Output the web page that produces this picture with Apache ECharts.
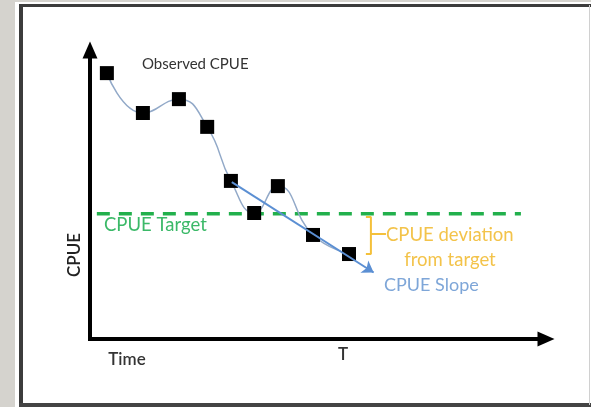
<!DOCTYPE html>
<html>
<head>
<meta charset="utf-8">
<script src="https://cdn.jsdelivr.net/npm/echarts@6/dist/echarts.min.js"></script>
<style>
html,body{margin:0;padding:0;background:#d5d3ce;}
#chart{width:591px;height:407px;}
</style>
</head>
<body>
<div id="chart"></div>
<script>
// Observed CPUE (time, CPUE) in arbitrary units
const obsTime = [3.7, 11.6, 19.5, 25.7, 30.9, 36.0, 41.2, 48.9, 56.8];
const obsCPUE = [92.0, 78.2, 83.0, 73.4, 54.7, 43.6, 52.9, 36.0, 29.4];
// CPUE target level and its span in time
const targetLevel = 43.3;
const targetSpan = [1.5, 94.5];
// CPUE slope arrow: start and end (time, CPUE)
const slopeStart = [31.1, 54.3];
const slopeEnd = [62.2, 23.0];
// deviation bracket (time, CPUE)
const bracketX = [60.5, 61.6, 64.9];
const bracketY = [42.2, 36.3, 29.4];
// axis range
const axisMax = [100, 100];
// text labels
const labels = {
  observed: 'Observed CPUE',
  target: 'CPUE Target',
  deviation1: 'CPUE deviation',
  deviation2: 'from target',
  slope: 'CPUE Slope',
  yName: 'CPUE',
  xStart: 'Time',
  xEnd: 'T'
};

const FONT = 'Lato, "Open Sans", sans-serif';
const obsData = obsTime.map((t, i) => [t, obsCPUE[i]]);
const bracketData = [
  [bracketX[0], bracketY[0]], [bracketX[1], bracketY[0]], [bracketX[1], bracketY[1]],
  [bracketX[2], bracketY[1]], [bracketX[1], bracketY[1]], [bracketX[1], bracketY[2]],
  [bracketX[0], bracketY[2]]
];

const chart = echarts.init(document.getElementById('chart'), null, {renderer: 'canvas'});
const axisLineStyle = {color: '#000', width: 4, cap: 'square'};
chart.setOption({
  backgroundColor: '#d5d3ce',
  animation: false,
  grid: {left: 90, top: 50, width: 456, height: 289, containLabel: false},
  xAxis: {
    type: 'value', min: 0, max: axisMax[0],
    axisLine: {show: true, lineStyle: axisLineStyle, symbol: ['none', 'triangle'], symbolSize: [15, 17]},
    axisTick: {show: false}, axisLabel: {show: false}, splitLine: {show: false}
  },
  yAxis: {
    type: 'value', min: 0, max: axisMax[1],
    axisLine: {show: true, lineStyle: axisLineStyle, symbol: ['none', 'triangle'], symbolSize: [15, 17]},
    axisTick: {show: false}, axisLabel: {show: false}, splitLine: {show: false}
  },
  graphic: [
    {type: 'rect', z: -100, shape: {x: 15, y: 2, width: 600, height: 420}, style: {fill: '#fff'}},
    {type: 'line', z: -90, shape: {x1: 21, y1: 4, x2: 21, y2: 407}, style: {stroke: '#3c3c3c', lineWidth: 4}},
    {type: 'line', z: -90, shape: {x1: 19, y1: 5.5, x2: 591, y2: 5.5}, style: {stroke: '#3c3c3c', lineWidth: 3}},
    {type: 'line', z: -90, shape: {x1: 19, y1: 405, x2: 591, y2: 405}, style: {stroke: '#444', lineWidth: 4}},
    {type: 'line', z: -90, shape: {x1: 589.5, y1: 5, x2: 589.5, y2: 405}, style: {stroke: '#d0d0d0', lineWidth: 1}},
    {type: 'text', x: 142, y: 64, style: {text: labels.observed, font: '15px ' + FONT, fill: '#333', align: 'left', verticalAlign: 'middle'}},
    {type: 'text', x: 104, y: 225, style: {text: labels.target, font: '18.5px ' + FONT, fill: '#3bb968', align: 'left', verticalAlign: 'middle'}},
    {type: 'text', x: 386, y: 235, style: {text: labels.deviation1, font: '18.5px ' + FONT, fill: '#f3c34a', align: 'left', verticalAlign: 'middle'}},
    {type: 'text', x: 450, y: 260, style: {text: labels.deviation2, font: '18.5px ' + FONT, fill: '#f3c34a', align: 'center', verticalAlign: 'middle'}},
    {type: 'text', x: 384, y: 285, style: {text: labels.slope, font: '18px ' + FONT, fill: '#7ea6d8', align: 'left', verticalAlign: 'middle'}},
    {type: 'text', x: 75, y: 255, rotation: Math.PI / 2, style: {text: labels.yName, font: '600 17px ' + FONT, fill: '#222', align: 'center', verticalAlign: 'middle'}},
    {type: 'text', x: 127, y: 360, style: {text: labels.xStart, font: '600 17px ' + FONT, fill: '#333', align: 'center', verticalAlign: 'middle'}},
    {type: 'text', x: 343, y: 355, style: {text: labels.xEnd, font: '600 17px ' + FONT, fill: '#333', align: 'center', verticalAlign: 'middle'}}
  ],
  series: [
    {
      type: 'line', name: 'target', data: [[targetSpan[0], targetLevel], [targetSpan[1], targetLevel]],
      symbol: 'none', lineStyle: {color: '#22b04c', width: 3.5, type: [13, 9]}, z: 1
    },
    {
      type: 'line', name: 'observed', data: obsData, smooth: 0.5,
      symbol: 'rect', symbolSize: 14, itemStyle: {color: '#000'},
      lineStyle: {color: '#92a9c8', width: 1.5}, z: 3
    },
    {
      type: 'lines', coordinateSystem: 'cartesian2d', z: 4,
      data: [{coords: [slopeStart, slopeEnd]}],
      symbol: ['none', 'arrow'], symbolSize: 11,
      lineStyle: {color: '#5b8fd3', width: 2, opacity: 1}
    },
    {
      type: 'line', name: 'bracket', data: bracketData, symbol: 'none',
      lineStyle: {color: '#f4c03a', width: 2}, z: 2
    }
  ]
});
</script>
</body>
</html>
